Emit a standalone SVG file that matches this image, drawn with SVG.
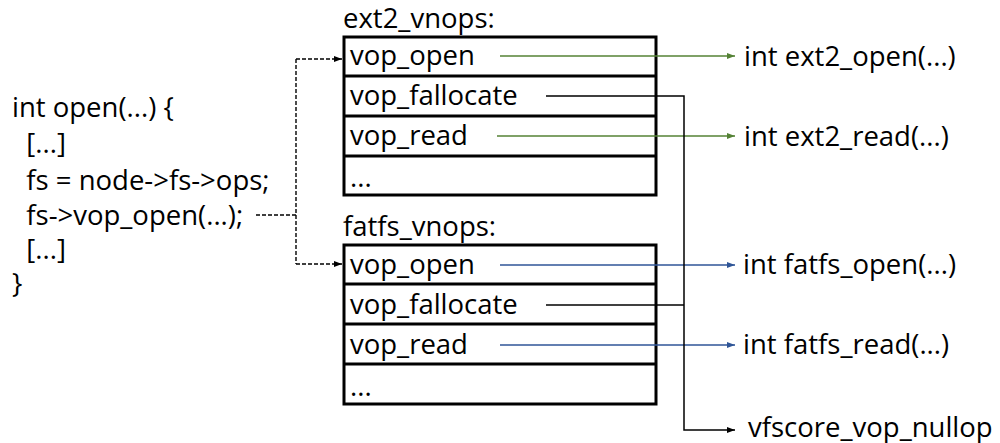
<svg xmlns="http://www.w3.org/2000/svg" width="1000" height="443" viewBox="0 0 1000 443">
<defs>
<style>
text{font-family:"Open Sans","Noto Sans",sans-serif;font-size:27.5px;fill:#000}
.box{fill:#fff;stroke:#000;stroke-width:3}
.div{stroke:#000;stroke-width:3}
.g{stroke:#548235;stroke-width:1.5;fill:none}
.b{stroke:#2f5597;stroke-width:1.5;fill:none}
.k{stroke:#000;stroke-width:1.5;fill:none}
.d{stroke:#000;stroke-width:1.4;fill:none;stroke-dasharray:4,2}
</style>
<marker id="ag" markerWidth="8" markerHeight="6" refX="8" refY="3" orient="auto" markerUnits="userSpaceOnUse"><path d="M0,0 L8,3 L0,6 Z" fill="#548235"/></marker>
<marker id="ab" markerWidth="8" markerHeight="6" refX="8" refY="3" orient="auto" markerUnits="userSpaceOnUse"><path d="M0,0 L8,3 L0,6 Z" fill="#2f5597"/></marker>
<marker id="ak" markerWidth="8" markerHeight="6" refX="8" refY="3" orient="auto" markerUnits="userSpaceOnUse"><path d="M0,0 L8,3 L0,6 Z" fill="#000"/></marker>
</defs>
<g id="code">
<text x="12" y="117">int open(...) {</text>
<text x="12" y="153" xml:space="preserve">  [...]</text>
<text x="12" y="190" xml:space="preserve">  fs = node-&gt;fs-&gt;ops;</text>
<text x="12" y="225" xml:space="preserve">  fs-&gt;vop_open(...);</text>
<text x="12" y="259" xml:space="preserve">  [...]</text>
<text x="12" y="293">}</text>
</g>
<g id="ext2_vnops">
<text x="343" y="28">ext2_vnops:</text>
<rect class="box" x="344" y="37" width="312" height="158"/>
<line class="div" x1="344" y1="76" x2="656" y2="76"/>
<line class="div" x1="344" y1="116" x2="656" y2="116"/>
<line class="div" x1="344" y1="156" x2="656" y2="156"/>
<text x="350" y="65">vop_open</text>
<text x="350" y="105">vop_fallocate</text>
<text x="350" y="145">vop_read</text>
<text x="350" y="187">...</text>
</g>
<g id="fatfs_vnops">
<text x="343" y="236">fatfs_vnops:</text>
<rect class="box" x="344" y="245" width="312" height="159"/>
<line class="div" x1="344" y1="284" x2="656" y2="284"/>
<line class="div" x1="344" y1="324" x2="656" y2="324"/>
<line class="div" x1="344" y1="364" x2="656" y2="364"/>
<text x="350" y="274">vop_open</text>
<text x="350" y="314">vop_fallocate</text>
<text x="350" y="354">vop_read</text>
<text x="350" y="396">...</text>
</g>
<g id="targets">
<text x="744" y="66">int ext2_open(...)</text>
<text x="744" y="146">int ext2_read(...)</text>
<text x="743" y="274">int fatfs_open(...)</text>
<text x="743" y="354">int fatfs_read(...)</text>
<text x="748" y="437">vfscore_vop_nullop</text>
</g>
<g id="connectors">
<path class="d" d="M256,215 H296 M296,59 V264"/>
<path class="d" d="M296,59 H342" marker-end="url(#ak)"/>
<path class="d" d="M296,264 H342" marker-end="url(#ak)"/>
<path class="g" d="M500,56 H735" marker-end="url(#ag)"/>
<path class="g" d="M497,136 H735" marker-end="url(#ag)"/>
<path class="b" d="M500,265 H735" marker-end="url(#ab)"/>
<path class="b" d="M500,345 H735" marker-end="url(#ab)"/>
<path class="k" d="M546,96 H684 V430 H735" marker-end="url(#ak)"/>
<path class="k" d="M546,305 H684"/>
</g>
</svg>
